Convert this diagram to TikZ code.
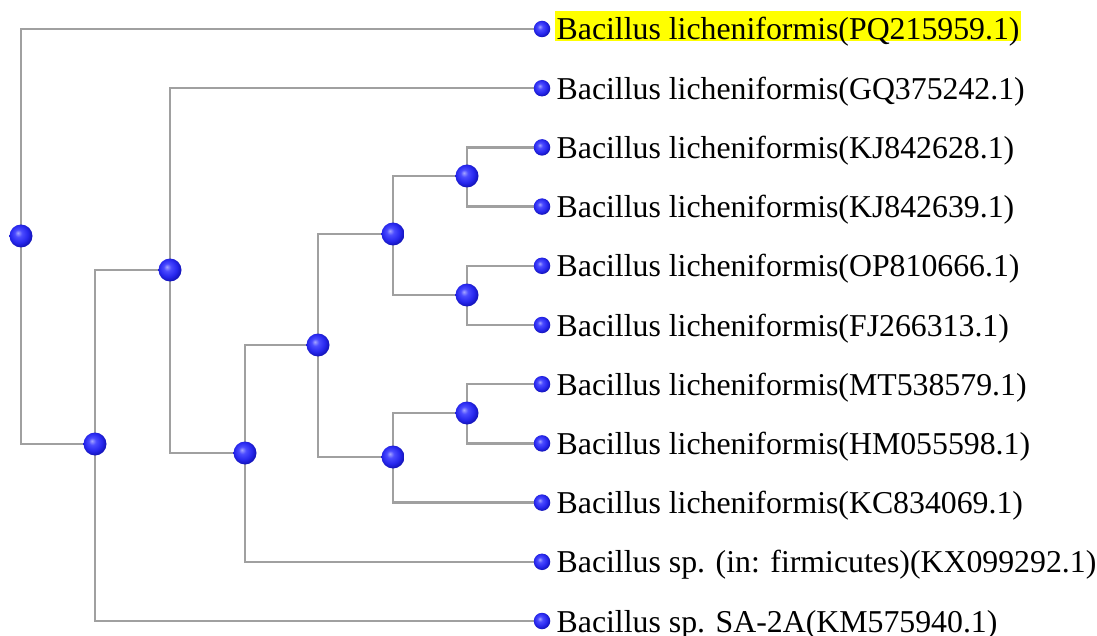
\documentclass[tikz,border=0pt]{standalone}
\usepackage{fontspec}
\setmainfont{Liberation Serif}
\usetikzlibrary{backgrounds}
\definecolor{edgegray}{RGB}{160,160,160}
\definecolor{hl}{RGB}{255,255,0}
\definecolor{ballhi}{RGB}{165,165,255}
\definecolor{ballmid}{RGB}{75,75,255}
\definecolor{ballbody}{RGB}{40,40,238}
\definecolor{ballrim}{RGB}{15,15,175}
% glossy blue sphere used for every tree node
\pgfdeclareradialshading{blueball}{\pgfqpoint{-7bp}{7bp}}{%
  color(0bp)=(ballhi); color(8bp)=(ballmid); color(19bp)=(ballbody);
  color(29bp)=(ballrim); color(50bp)=(ballrim)}
\begin{document}
\begin{tikzpicture}[x=1pt,y=-1pt,
  inner/.style={circle,inner sep=0pt,minimum size=23pt,shading=blueball},
  leaf/.style={circle,inner sep=0pt,minimum size=16.5pt,shading=blueball},
  lbl/.style={anchor=base west,inner xsep=1.5pt,inner ysep=1pt,text height=28pt,text depth=0pt,
    font=\fontsize{31.8}{36}\selectfont},
  branch/.style={draw=edgegray,line width=2.4pt}]
\useasboundingbox (0,0) rectangle (1097,636);
\clip (0,0) rectangle (1097,636);

% internal nodes
\node[inner] (root) at (21,236) {};
\node[inner] (a) at (95,444) {};
\node[inner] (b) at (170,270) {};
\node[inner] (c) at (245,453) {};
\node[inner] (d) at (318,345) {};
\node[inner] (e) at (393,234) {};
\node[inner] (f) at (393,457) {};
\node[inner] (g) at (467,176) {};
\node[inner] (h) at (467,295) {};
\node[inner] (i) at (467,413) {};

% leaves and their labels
\foreach \k/\name [count=\n from 0] in {
  l0/{Bacillus licheniformis(PQ215959.1)},
  l1/{Bacillus licheniformis(GQ375242.1)},
  l2/{Bacillus licheniformis(KJ842628.1)},
  l3/{Bacillus licheniformis(KJ842639.1)},
  l4/{Bacillus licheniformis(OP810666.1)},
  l5/{Bacillus licheniformis(FJ266313.1)},
  l6/{Bacillus licheniformis(MT538579.1)},
  l7/{Bacillus licheniformis(HM055598.1)},
  l8/{Bacillus licheniformis(KC834069.1)},
  l9/{Bacillus sp. (in: firmicutes)(KX099292.1)},
  l10/{Bacillus sp. SA-2A(KM575940.1)}}{
  \pgfmathsetmacro{\yy}{29+59.2*\n}
  \ifnum\n=0
    \node[lbl,fill=hl] (t\k) at (555,\yy+11) {\name};
  \else
    \node[lbl] (t\k) at (555,\yy+11) {\name};
  \fi
  \node[leaf] (\k) at (542,\yy) {};
}

% branches
\begin{pgfonlayer}{background}
  \foreach \p/\c in {root/l0,root/a,a/b,a/l10,b/l1,b/c,c/d,c/l9,d/e,d/f,
                     e/g,e/h,g/l2,g/l3,h/l4,h/l5,f/i,f/l8,i/l6,i/l7}
    \draw[branch] (\p.center) |- (\c.center);
\end{pgfonlayer}
\end{tikzpicture}
\end{document}
